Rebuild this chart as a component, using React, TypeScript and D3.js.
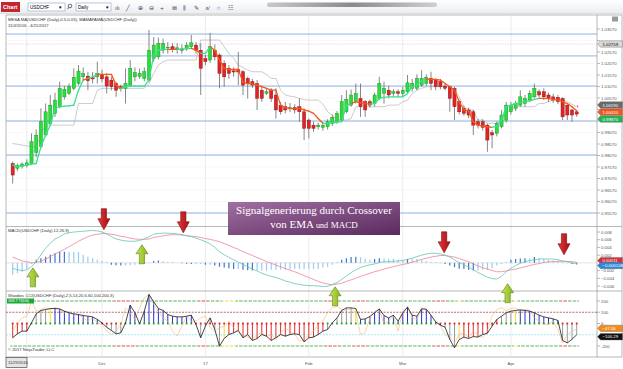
import * as d3 from 'd3';

// ---- data (USDCHF daily, 11/4/2016 - 4/21/2017) ----
const xTickBars = [19, 41, 63, 83, 106];
const xTickLabels = ['Dec', '17', 'Feb', 'Mar', 'Apr'];
const gridBars = [3, 19, 41, 63, 83, 106];

const priceTicks = [1.0357, 1.0307, 1.0257, 1.0207, 1.0157, 1.0107, 1.0057, 1.0007, 0.9957, 0.9907,
  0.9857, 0.9807, 0.9757, 0.9707, 0.9657, 0.9607, 0.9557];
const levels = [1.0335, 1.0240, 1.0109, 0.9957, 0.9809, 0.9557];
const pinkLevel = 1.02919;

const open = [0.9772,0.9751,0.9758,0.9765,0.9772,0.9820,0.9845,0.9896,0.9946,0.9990,
1.0019,1.0062,1.0077,1.0099,1.0120,1.0149,1.0152,1.0145,1.0149,1.0160,
1.0149,1.0135,1.0120,1.0106,1.0099,1.0113,1.0149,1.0150,1.0142,1.0135,
1.0229,1.0236,1.0265,1.0275,1.0280,1.0268,1.0270,1.0273,1.0280,1.0287,
1.0265,1.0229,1.0222,1.0265,1.0244,1.0207,1.0186,1.0175,1.0180,1.0171,
1.0142,1.0128,1.0120,1.0091,1.0077,1.0091,1.0070,1.0026,1.0019,1.0010,
1.0015,1.0019,0.9997,0.9961,0.9939,0.9932,0.9929,0.9932,0.9946,0.9954,
0.9961,0.9997,1.0026,1.0041,1.0055,1.0041,1.0041,1.0033,1.0055,1.0077,
1.0091,1.0077,1.0084,1.0077,1.0084,1.0099,1.0099,1.0113,1.0120,1.0142,
1.0138,1.0128,1.0109,1.0106,1.0099,1.0041,1.0012,1.0005,0.9997,0.9954,
0.9954,0.9939,0.9906,0.9903,0.9932,0.9961,0.9997,1.0012,1.0026,1.0033,
1.0048,1.0062,1.0084,1.0084,1.0070,1.0062,1.0060,1.0055,1.0026,1.0005,
0.9997];
const high = [0.9780,0.9772,0.9778,0.9790,0.9903,0.9920,1.0012,1.0033,1.0070,1.0080,
1.0128,1.0110,1.0120,1.0186,1.0200,1.0190,1.0171,1.0170,1.0215,1.0180,
1.0164,1.0150,1.0128,1.0115,1.0186,1.0222,1.0190,1.0185,1.0190,1.0353,
1.0322,1.0320,1.0315,1.0300,1.0295,1.0295,1.0290,1.0300,1.0331,1.0300,
1.0295,1.0245,1.0340,1.0290,1.0251,1.0220,1.0200,1.0190,1.0258,1.0178,
1.0150,1.0140,1.0135,1.0110,1.0095,1.0100,1.0099,1.0040,1.0040,1.0035,
1.0030,1.0055,1.0012,0.9968,0.9955,0.9950,0.9950,0.9965,0.9985,1.0000,
1.0070,1.0091,1.0094,1.0120,1.0120,1.0048,1.0050,1.0080,1.0149,1.0128,
1.0110,1.0095,1.0095,1.0105,1.0157,1.0140,1.0160,1.0178,1.0160,1.0171,
1.0142,1.0140,1.0120,1.0110,1.0105,1.0050,1.0025,1.0015,1.0005,0.9965,
0.9965,0.9946,0.9918,0.9955,1.0005,1.0040,1.0040,1.0045,1.0091,1.0070,
1.0090,1.0120,1.0095,1.0099,1.0080,1.0075,1.0070,1.0060,1.0030,1.0010,
1.0005];
const low = [0.9685,0.9740,0.9750,0.9755,0.9765,0.9800,0.9838,0.9889,0.9939,0.9975,
1.0012,1.0050,1.0070,1.0091,1.0113,1.0135,1.0091,1.0120,1.0120,1.0125,
1.0077,1.0090,1.0062,1.0085,1.0033,1.0106,1.0130,1.0140,1.0130,1.0128,
1.0215,1.0225,1.0250,1.0250,1.0255,1.0250,1.0250,1.0262,1.0270,1.0250,
1.0070,1.0200,1.0210,1.0220,1.0099,1.0106,1.0140,1.0150,1.0113,1.0070,
1.0055,1.0100,1.0005,1.0040,1.0070,1.0040,0.9968,0.9985,0.9990,0.9995,
0.9990,0.9954,0.9874,0.9881,0.9910,0.9920,0.9915,0.9920,0.9935,0.9945,
0.9954,0.9990,1.0019,1.0033,0.9975,0.9975,1.0015,1.0020,1.0048,1.0033,
1.0055,1.0065,1.0065,1.0065,1.0077,1.0085,1.0090,1.0106,1.0110,1.0091,
1.0091,1.0095,1.0090,0.9997,0.9961,0.9985,0.9980,0.9970,0.9896,0.9925,
0.9915,0.9823,0.9838,0.9890,0.9925,0.9950,0.9985,1.0000,1.0019,1.0020,
1.0040,1.0055,1.0060,1.0048,1.0040,1.0035,1.0030,0.9961,0.9961,0.9954,
0.9975];
const close = [0.9722,0.9765,0.9770,0.9775,0.9867,0.9895,0.9954,0.9997,1.0026,1.0048,
1.0099,1.0095,1.0106,1.0147,1.0174,1.0164,1.0132,1.0140,1.0164,1.0140,
1.0109,1.0106,1.0091,1.0099,1.0120,1.0186,1.0168,1.0164,1.0171,1.0265,
1.0287,1.0295,1.0295,1.0278,1.0270,1.0275,1.0265,1.0287,1.0297,1.0265,
1.0186,1.0215,1.0280,1.0236,1.0164,1.0149,1.0164,1.0170,1.0170,1.0113,
1.0120,1.0113,1.0055,1.0055,1.0084,1.0055,1.0005,0.9997,1.0005,1.0015,
1.0005,0.9997,0.9925,0.9925,0.9925,0.9939,0.9939,0.9954,0.9973,0.9990,
1.0041,1.0051,1.0070,1.0077,1.0019,1.0005,1.0026,1.0070,1.0120,1.0099,
1.0070,1.0084,1.0077,1.0091,1.0123,1.0120,1.0142,1.0142,1.0147,1.0120,
1.0106,1.0106,1.0099,1.0055,1.0019,0.9997,0.9990,0.9983,0.9939,0.9939,
0.9929,0.9874,0.9896,0.9946,0.9983,1.0026,1.0026,1.0033,1.0062,1.0055,
1.0077,1.0099,1.0070,1.0062,1.0055,1.0048,1.0041,0.9975,0.9983,0.9983,
0.9987];

// trend line (green = up, orange = down) and grey trailing line
const trend = [0.9765,0.9761,0.9761,0.9765,0.9770,0.9772,0.9845,0.9896,0.9939,1.0012,
1.0019,1.0022,1.0023,1.0026,1.0091,1.0135,1.0142,1.0149,1.0160,1.0160,
1.0160,1.0160,1.0113,1.0099,1.0106,1.0109,1.0109,1.0109,1.0109,1.0135,
1.0244,1.0265,1.0268,1.0268,1.0268,1.0268,1.0270,1.0271,1.0273,1.0265,
1.0251,1.0251,1.0280,1.0265,1.0222,1.0186,1.0181,1.0181,1.0181,1.0125,
1.0120,1.0118,1.0113,1.0106,1.0099,1.0091,1.0091,1.0026,1.0015,1.0012,
1.0010,1.0012,1.0005,1.0000,0.9990,0.9968,0.9947,0.9947,0.9949,0.9952,
0.9954,1.0026,1.0033,1.0041,1.0036,1.0033,1.0030,1.0033,1.0055,1.0060,
1.0062,1.0062,1.0062,1.0062,1.0077,1.0106,1.0113,1.0132,1.0138,1.0138,
1.0138,1.0135,1.0120,1.0106,1.0091,1.0041,1.0005,1.0000,0.9954,0.9939,
0.9935,0.9932,0.9929,0.9935,0.9961,1.0019,1.0026,1.0033,1.0038,1.0041,
1.0045,1.0051,1.0055,1.0055,1.0054,1.0051,1.0048,1.0041,1.0033,1.0019,
1.0002];
const trendUp = [0,1,1,1,1,1,1,1,1,1,
1,1,1,1,1,1,0,1,1,0,
0,0,0,0,1,1,1,1,1,1,
1,1,1,1,0,0,1,1,1,0,
0,1,1,0,0,0,0,0,0,0,
0,0,0,0,0,0,0,0,0,0,
0,0,0,0,0,0,0,1,1,1,
1,1,1,0,0,0,0,1,1,1,
1,1,1,1,1,1,1,1,1,0,
0,0,0,0,0,0,0,0,0,0,
0,0,0,1,1,1,1,1,1,1,
1,1,1,0,0,0,0,0,0,0,
0];
const grey = [0.9859,0.9856,0.9852,0.9849,0.9845,0.9845,0.9900,0.9939,0.9939,0.9939,
0.9939,0.9939,0.9939,0.9939,1.0033,1.0033,1.0033,1.0033,1.0091,1.0099,
1.0099,1.0099,1.0099,1.0099,1.0099,1.0099,1.0099,1.0099,1.0099,1.0120,
1.0164,1.0200,1.0215,1.0222,1.0222,1.0222,1.0222,1.0222,1.0222,1.0222,
1.0309,1.0309,1.0309,1.0309,1.0309,1.0280,1.0250,1.0230,1.0200,1.0190,
1.0178,1.0171,1.0171,1.0171,1.0160,1.0142,1.0142,1.0091,1.0070,1.0065,
1.0062,1.0055,1.0050,1.0048,1.0048,1.0048,1.0030,0.9997,0.9983,0.9961,
0.9961,0.9961,0.9968,1.0019,1.0019,1.0019,1.0019,1.0019,1.0019,1.0019,
1.0026,1.0026,1.0026,1.0041,1.0048,1.0077,1.0091,1.0099,1.0106,1.0106,
1.0106,1.0106,1.0106,1.0106,1.0091,1.0062,1.0019,1.0005,1.0005,0.9961,
0.9961,0.9947,0.9947,0.9947,0.9961,0.9990,1.0005,1.0019,1.0019,1.0019,
1.0019,1.0019,1.0033,1.0033,1.0041,1.0048,1.0055,1.0048,1.0041,1.0030,
1.0019];

// MACD 12,26,9
const macdTicks = [0.008, 0.006, 0.004, 0.002, -0.002, -0.004, -0.006];
const macd = [-0.0014,-0.0018,-0.0020,-0.0018,-0.0010,0.0003,0.0021,0.0038,0.0051,0.0062,
0.0068,0.0075,0.0078,0.0080,0.0081,0.0082,0.0083,0.0084,0.0083,0.0080,
0.0075,0.0068,0.0062,0.0059,0.0057,0.0056,0.0056,0.0058,0.0062,0.0068,
0.0074,0.0076,0.0077,0.0077,0.0076,0.0075,0.0073,0.0070,0.0068,0.0064,
0.0060,0.0055,0.0049,0.0040,0.0029,0.0021,0.0014,0.0008,0.0002,-0.0004,
-0.0010,-0.0016,-0.0021,-0.0027,-0.0031,-0.0035,-0.0038,-0.0042,-0.0047,-0.0050,
-0.0054,-0.0056,-0.0058,-0.0059,-0.0059,-0.0060,-0.0061,-0.0061,-0.0056,-0.0051,
-0.0043,-0.0034,-0.0025,-0.0018,-0.0012,-0.0008,-0.0005,-0.0003,0.0001,0.0003,
0.0003,0.0004,0.0005,0.0006,0.0009,0.0012,0.0016,0.0020,0.0023,0.0025,
0.0025,0.0023,0.0020,0.0015,0.0008,0.0001,-0.0005,-0.0011,-0.0018,-0.0025,
-0.0031,-0.0037,-0.0041,-0.0042,-0.0035,-0.0023,-0.0014,-0.0007,-0.0001,0.0003,
0.0006,0.0008,0.0010,0.0010,0.0010,0.0010,0.0008,0.0005,0.0003,-0.0001,
-0.000108];
const signal = [0.0015,0.0010,0.0005,0.0003,0.0000,0.0001,0.0004,0.0010,0.0016,0.0023,
0.0029,0.0035,0.0042,0.0049,0.0056,0.0062,0.0068,0.0072,0.0074,0.0076,
0.0076,0.0074,0.0072,0.0069,0.0067,0.0064,0.0062,0.0061,0.0061,0.0062,
0.0066,0.0068,0.0070,0.0072,0.0073,0.0073,0.0072,0.0071,0.0069,0.0068,
0.0066,0.0063,0.0061,0.0058,0.0055,0.0050,0.0045,0.0040,0.0035,0.0029,
0.0024,0.0019,0.0014,0.0009,0.0003,-0.0001,-0.0006,-0.0010,-0.0015,-0.0019,
-0.0023,-0.0028,-0.0033,-0.0038,-0.0043,-0.0048,-0.0052,-0.0055,-0.0057,-0.0055,
-0.0053,-0.0048,-0.0044,-0.0040,-0.0035,-0.0031,-0.0027,-0.0023,-0.0020,-0.0016,
-0.0013,-0.0010,-0.0007,-0.0004,-0.0002,0.0002,0.0005,0.0009,0.0012,0.0015,
0.0017,0.0019,0.0019,0.0017,0.0015,0.0011,0.0007,0.0003,-0.0003,-0.0008,
-0.0013,-0.0016,-0.0020,-0.0023,-0.0023,-0.0021,-0.0018,-0.0016,-0.0013,-0.0010,
-0.0007,-0.0004,-0.0002,0.0001,0.0003,0.0003,0.0004,0.0004,0.0004,0.0003,
0.00011];
const hist = [-0.0031,-0.0027,-0.0023,-0.0016,-0.0003,0.0008,0.0012,0.0016,0.0021,0.0025,
0.0028,0.0029,0.0029,0.0029,0.0028,0.0021,0.0016,0.0012,0.0008,0.0005,
0.0003,-0.0005,-0.0006,-0.0007,-0.0007,-0.0006,-0.0005,-0.0004,-0.0003,0.0001,
0.0005,0.0006,0.0005,0.0003,0.0002,0.0000,-0.0001,-0.0002,-0.0003,-0.0003,
-0.0003,-0.0005,-0.0005,-0.0007,-0.0010,-0.0012,-0.0014,-0.0016,-0.0016,-0.0018,
-0.0019,-0.0020,-0.0020,-0.0020,-0.0020,-0.0018,-0.0018,-0.0018,-0.0018,-0.0017,
-0.0016,-0.0016,-0.0016,-0.0016,-0.0016,-0.0016,-0.0012,-0.0010,-0.0005,0.0003,
0.0008,0.0012,0.0015,0.0016,0.0015,0.0011,0.0008,0.0010,0.0012,0.0012,
0.0010,0.0010,0.0008,0.0008,0.0010,0.0010,0.0010,0.0008,0.0005,0.0003,
0.0002,-0.0001,-0.0003,-0.0007,-0.0011,-0.0015,-0.0016,-0.0018,-0.0020,-0.0020,
-0.0018,-0.0018,-0.0014,-0.0007,-0.0003,0.0003,0.0008,0.0010,0.0011,0.0012,
0.0012,0.0015,0.0012,0.0010,0.0008,0.0006,0.0004,0.0002,-0.0001,-0.0003,
-0.0004];

// Woodies CCI
const cciTicks = [200, 100, 0, -200];
const cci = [-127,-92,-68,-68,6,86,116,124,133,133,
130,110,95,86,80,71,65,59,36,6,
-33,-62,-92,-83,6,163,95,-3,110,258,
193,133,116,80,65,59,59,65,74,-9,
-127,-24,50,-53,-201,-133,-98,-83,-62,-127,
-98,-151,-133,-98,-113,-151,-127,-98,-113,-98,
-92,-98,-163,-127,-121,-98,-68,-53,6,50,
116,139,139,133,36,41,62,95,130,71,
50,74,21,95,145,74,65,130,127,74,
15,-15,-33,-142,-216,-142,-121,-133,-116,-121,
-98,-86,-24,36,65,95,110,116,121,116,
110,95,74,59,50,41,27,-151,-172,-140,
-100.29];
const turbo = [-68,6,50,65,199,110,124,139,124,145,
124,95,110,65,80,50,21,50,6,-9,
-68,-98,-68,-9,139,95,36,139,228,258,
169,110,50,21,-68,-113,-24,65,21,21,
50,65,-39,-68,-39,-24,21,-39,-83,-98,
-121,-142,-98,-83,-113,-98,-142,-83,-39,-68,
-98,-157,-142,-98,-68,-9,21,95,139,154,
124,116,133,95,-98,-83,50,110,124,-9,
21,65,-68,110,154,50,36,139,124,65,
21,-24,-98,-127,-172,-98,-83,-127,-68,-98,
-127,-68,65,124,139,116,133,139,110,124,
116,50,21,-9,-9,21,-53,-172,-98,-68,
-47.56];
// histogram trend colour: b = long, r = short, g = neutral, y = 6th bar
const cciTrend = 'rrrrggggybbbbbbbbbbgggggbbbbbbbbbbbbbbbggggggyrrrrrrrrrrrrrrrrrrrrrggggggybbbbbbbbbbbbbbbbbbgggyrrrrrrrrgggybbbbbbbbbgggg';
const zeroMark = 'rrrrgggggggggggggggrrrrrgggggggggggggggrrrrrrrrrrrrrrrrrrrrrrrrrrrrggggggggggggggggggggggggrrrrrrrrrrrrrgggggggggggggrrrr';
const bandMarks = [[22, 26, 'r'], [40, 41, 'r'], [45, 47, 'y'], [67, 69, 'r'], [73, 75, 'r'], [90, 92, 'r'], [95, 95, 'y'], [107, 107, 'y'], [117, 118, 'r']];

// signal arrows: bar, MACD value at tip, direction
const arrows = [
  { bar: 19.4, at: 0.0086, dir: 'down' }, { bar: 36.3, at: 0.0078, dir: 'down' },
  { bar: 91.8, at: 0.0026, dir: 'down' }, { bar: 117.3, at: 0.0021, dir: 'down' },
  { bar: 4.3, at: -0.0013, dir: 'up' }, { bar: 27.5, at: 0.0047, dir: 'up' },
  { bar: 68.6, at: -0.0062, dir: 'up' }, { bar: 105.3, at: -0.0054, dir: 'up' },
];

const FONT = "'Liberation Sans', Arial, sans-serif";
const AX = 597;
const L = 6;

function Pill({ y, text, fill, color = '#000' }: { y: number; text: string; fill: string; color?: string }) {
  return (
    <g transform={`translate(${AX + 0.5},${y})`}>
      <path d="M0,0 L3,-3.2 H25 V3.2 H3 Z" fill={fill} stroke="#666" strokeWidth={0.4} />
      <text x={5} y={1.6} fontSize={4.3} fill={color} fontFamily={FONT}>{text}</text>
    </g>
  );
}

export default function App() {
  const n = open.length;
  const x = d3.scaleLinear().domain([0, n - 1]).range([12.7, 576.7]);
  const yP = d3.scaleLinear().domain([0.9557, 1.0357]).range([213, 29]);
  const yM = d3.scaleLinear().domain([-0.006, 0.008]).range([286, 232]);
  const yC = d3.scaleLinear().domain([-200, 200]).range([346, 301]);
  const f5 = d3.format('.5f');

  const lineP = d3.line<number>().x((_, i) => x(i)).y((d) => yP(d));
  const lineM = d3.line<number>().x((_, i) => x(i)).y((d) => yM(d));
  const lineC = d3.line<number>().x((_, i) => x(i)).y((d) => yC(d));
  const seg = (arr: number[], i: number, y: (v: number) => number) =>
    d3.line()([[x(i - 1), y(arr[i - 1])], [x(i), y(arr[i])]]) as string;

  const trendCol = (u: number) => (u ? '#35e28c' : '#f4561c');
  const cciCol: Record<string, string> = { b: '#2436c8', r: '#e42b2b', g: '#9a9a9a', y: '#f2e22a' };
  const bandCol = (i: number) => {
    const m = bandMarks.find(([a, b]) => i >= (a as number) && i <= (b as number));
    return m ? (m[2] === 'r' ? '#d42020' : '#f0d020') : '#2e9e2e';
  };

  // price-axis pills, stacked so that they do not overlap
  const pricePills = [
    { y: yP(grey[n - 1]) - 1.7, text: f5(grey[n - 1]), fill: '#6a6a6a' },
    { y: yP(trend[n - 1]) + 1.4, text: f5(trend[n - 1]), fill: '#f4561c' },
    { y: yP(close[n - 1]) + 4.9, text: f5(close[n - 1]), fill: '#22b257' },
  ];
  const pillYs = [yP(pinkLevel), ...pricePills.map((p) => p.y)];
  const visibleTicks = priceTicks.filter((t) => pillYs.every((py) => Math.abs(py - yP(t)) > 4.5));

  const arrowPath = (dir: string) =>
    dir === 'down'
      ? 'M0,0 L-6,-11 L-2.6,-11 L-2.6,-21 L2.6,-21 L2.6,-11 L6,-11 Z'
      : 'M0,0 L-6,9 L-2.6,9 L-2.6,19 L2.6,19 L2.6,9 L6,9 Z';

  return (
    <svg width={623} height={369} style={{ position: 'absolute', left: 0, top: 0, background: '#fff' }} fontFamily={FONT}>
      <defs>
        <linearGradient id="box" x1="0" y1="0" x2="1" y2="1">
          <stop offset="0" stopColor="#a070a2" />
          <stop offset="1" stopColor="#5a2a5e" />
        </linearGradient>
        <linearGradient id="tb" x1="0" y1="0" x2="0" y2="1">
          <stop offset="0" stopColor="#ffffff" />
          <stop offset="1" stopColor="#e9ecf1" />
        </linearGradient>
        <linearGradient id="sb" x1="0" y1="0" x2="1" y2="0">
          <stop offset="0" stopColor="#c8c8c8" />
          <stop offset="0.5" stopColor="#8a8a8a" />
          <stop offset="1" stopColor="#d0d0d0" />
        </linearGradient>
        <linearGradient id="red" x1="0" y1="0" x2="1" y2="0">
          <stop offset="0" stopColor="#e23a3a" />
          <stop offset="1" stopColor="#a80d14" />
        </linearGradient>
        <linearGradient id="grn" x1="0" y1="0" x2="1" y2="0">
          <stop offset="0" stopColor="#c6e45a" />
          <stop offset="1" stopColor="#86b41c" />
        </linearGradient>
      </defs>

      {/* toolbar */}
      <rect x={0} y={0} width={623} height={14} fill="url(#tb)" />
      <rect x={1} y={2} width={19} height={10} fill="#c1272d" />
      <text x={3} y={9.2} fontSize={5.5} fill="#fff" fontWeight="bold">Chart</text>
      <rect x={28} y={3} width={37} height={8} fill="#fff" stroke="#8aa4c8" strokeWidth={0.6} />
      <text x={30} y={8.8} fontSize={4.6}>USDCHF</text>
      <text x={58} y={9} fontSize={4.5}>▼</text>
      <circle cx={70} cy={6} r={1.8} fill="none" stroke="#333" strokeWidth={0.7} />
      <line x1={68.8} y1={7.3} x2={67.5} y2={9} stroke="#333" strokeWidth={0.8} />
      <rect x={76} y={3} width={35} height={8} fill="#fff" stroke="#8aa4c8" strokeWidth={0.6} />
      <text x={78} y={8.8} fontSize={4.6}>Daily</text>
      <text x={105} y={9} fontSize={4.5}>▼</text>
      {['ılı', '╱', '⊕', '⊖', '+', '⊠', '⫼', '✎', 'ʌ∕', '○', '☷'].map((t, i) => (
        <text key={i} x={115 + i * 11.3} y={9.5} fontSize={6} fill="#445">{t}</text>
      ))}
      <rect x={267} y={2.5} width={170} height={4.5} rx={2} fill="url(#sb)" />
      <line x1={0} y1={13.5} x2={623} y2={13.5} stroke="#d4d4d4" strokeWidth={0.6} />

      {/* chart frame */}
      <rect x={L} y={15} width={616} height={342} fill="#fff" stroke="#9a9a9a" strokeWidth={0.7} />
      <line x1={AX} y1={15} x2={AX} y2={357} stroke="#9a9a9a" strokeWidth={0.7} />
      <rect x={612} y={16.5} width={6} height={5} fill="#9a9a9a" />

      {/* vertical grid */}
      {gridBars.map((b) => (
        <line key={b} x1={x(b)} x2={x(b)} y1={15} y2={357} stroke="#e3e3e3" strokeWidth={0.7} />
      ))}

      {/* ---------- price pane ---------- */}
      {priceTicks.map((t) => (
        <g key={t}>
          <line x1={L} x2={AX} y1={yP(t)} y2={yP(t)} stroke="#f0f0f0" strokeWidth={0.5} />
          <line x1={AX} x2={AX + 3} y1={yP(t)} y2={yP(t)} stroke="#777" strokeWidth={0.5} />
        </g>
      ))}
      {visibleTicks.map((t) => (
        <text key={t} x={AX + 4} y={yP(t) + 1.5} fontSize={4.3} fill="#555">{f5(t)}</text>
      ))}
      {levels.map((lv) => (
        <line key={lv} x1={L} x2={AX} y1={yP(lv)} y2={yP(lv)} stroke="#86a9df" strokeWidth={0.9} />
      ))}
      <line x1={L} x2={AX} y1={yP(pinkLevel)} y2={yP(pinkLevel)} stroke="#e6a6e8" strokeWidth={0.6} strokeDasharray="1.2,1.2" />

      <path d={lineP(grey) as string} fill="none" stroke="#b4b4b4" strokeWidth={0.7} />
      {open.map((o, i) => {
        const up = close[i] >= o;
        const top = yP(Math.max(o, close[i]));
        const bot = yP(Math.min(o, close[i]));
        return (
          <g key={i}>
            <line x1={x(i)} x2={x(i)} y1={yP(high[i])} y2={yP(low[i])} stroke="#555" strokeWidth={0.7} />
            <rect x={x(i) - 1.6} y={top} width={3.2} height={Math.max(bot - top, 0.8)}
              fill={up ? '#27de3c' : '#e02424'} stroke={up ? '#1b8a22' : '#8c1212'} strokeWidth={0.4} />
          </g>
        );
      })}
      {trend.slice(1).map((_, k) => (
        <path key={k} d={seg(trend, k + 1, yP)} stroke={trendCol(trendUp[k + 1])} strokeWidth={1.3} fill="none" strokeLinecap="round" />
      ))}
      <line x1={x(n - 1) + 1} x2={x(n - 1) + 1} y1={yP(1.0026)} y2={yP(1.0015)} stroke="#ff40e0" strokeWidth={1} />

      <text x={8} y={21} fontSize={4.2} fill="#333">MESA MA(USDCHF (Daily),0.5,0.05), MAMAFAMA(USDCHF (Daily))</text>
      <text x={8} y={26.5} fontSize={4.2} fill="#333">11/4/2016 - 4/21/2017</text>

      <Pill y={yP(pinkLevel)} text="1.02759" fill="#d8d8d8" />
      {pricePills.map((p) => (
        <Pill key={p.fill} y={p.y} text={p.text} fill={p.fill} color="#fff" />
      ))}

      {/* ---------- MACD pane ---------- */}
      <line x1={L} x2={622} y1={226.5} y2={226.5} stroke="#9a9a9a" strokeWidth={0.7} />
      {macdTicks.map((t) => (
        <g key={t}>
          <line x1={AX} x2={AX + 3} y1={yM(t)} y2={yM(t)} stroke="#777" strokeWidth={0.5} />
          <text x={AX + 4} y={yM(t) + 1.5} fontSize={4.3} fill="#555">{d3.format('.3f')(t)}</text>
        </g>
      ))}
      <line x1={L} x2={AX} y1={yM(0)} y2={yM(0)} stroke="#c8c8c8" strokeWidth={0.5} />
      {hist.map((h, i) => (
        <line key={i} x1={x(i)} x2={x(i)} y1={yM(0)} y2={yM(h)}
          stroke={i > 0 && Math.abs(h) > Math.abs(hist[i - 1]) ? '#3a78c8' : '#9ccbef'} strokeWidth={1.2} />
      ))}
      <path d={lineM(signal) as string} fill="none" stroke="#ec8496" strokeWidth={0.8} />
      <path d={lineM(macd) as string} fill="none" stroke="#62c6b4" strokeWidth={0.8} />
      <text x={8} y={232} fontSize={4.2} fill="#333">MACD(USDCHF (Daily),12,26,9)</text>
      <Pill y={yM(signal[n - 1]) - 1.8} text={d3.format('.5f')(signal[n - 1])} fill="#d6303c" color="#fff" />
      <Pill y={yM(macd[n - 1]) + 2.2} text={d3.format('.6f')(macd[n - 1])} fill="#2f86d8" color="#fff" />

      {/* ---------- Woodies CCI pane ---------- */}
      <line x1={L} x2={622} y1={291} y2={291} stroke="#9a9a9a" strokeWidth={0.7} />
      {cciTicks.map((t) => (
        <g key={t}>
          <line x1={AX} x2={AX + 3} y1={yC(t)} y2={yC(t)} stroke="#777" strokeWidth={0.5} />
          <text x={AX + 4} y={yC(t) + 1.5} fontSize={4.3} fill="#555">{t}</text>
        </g>
      ))}
      {cci.map((_, i) => (
        <g key={i}>
          <line x1={x(i) - 2.35} x2={x(i) + 2.35} y1={yC(200)} y2={yC(200)} stroke={bandCol(i)} strokeWidth={0.8} strokeDasharray="2,1.2" />
          <line x1={x(i) - 2.35} x2={x(i) + 2.35} y1={yC(-200)} y2={yC(-200)} stroke={bandCol(i)} strokeWidth={0.8} strokeDasharray="2,1.2" />
        </g>
      ))}
      <line x1={L} x2={AX} y1={yC(100)} y2={yC(100)} stroke="#8c3434" strokeWidth={0.7} strokeDasharray="2,1.2" />
      <line x1={L} x2={AX} y1={yC(-100)} y2={yC(-100)} stroke="#7fe0ea" strokeWidth={0.7} strokeDasharray="2,1.2" />
      {cci.map((c, i) => (
        <line key={i} x1={x(i)} x2={x(i)} y1={yC(0)} y2={yC(c)} stroke={cciCol[cciTrend[i]]} strokeWidth={1} />
      ))}
      {cci.map((_, i) => (
        <rect key={i} x={x(i) - 0.9} y={yC(0) - 0.9} width={1.8} height={1.8} fill={zeroMark[i] === 'r' ? '#e42020' : '#2ca02c'} />
      ))}
      <path d={lineC(turbo) as string} fill="none" stroke="#f7b77a" strokeWidth={0.6} />
      <path d={lineC(cci) as string} fill="none" stroke="#1a1a1a" strokeWidth={0.8} />
      <text x={8} y={296.5} fontSize={4.2} fill="#333">Woodies CCI(USDCHF (Daily),2,5,14,20,6,60,100,200,3)</text>
      <rect x={7} y={298.5} width={27} height={5} fill="#1da83a" />
      <text x={8} y={302.3} fontSize={3.8} fill="#fff">168.7 Tl(Dfi)</text>
      <text x={8} y={351} fontSize={4.2} fill="#333">© 2017 NinjaTrader, LLC</text>
      <Pill y={yC(turbo[n - 1]) - 0.5} text={d3.format('.2f')(turbo[n - 1])} fill="#f28c1a" color="#fff" />
      <Pill y={yC(cci[n - 1]) + 2} text={d3.format('.2f')(cci[n - 1])} fill="#111" color="#fff" />

      {/* ---------- x axis ---------- */}
      {xTickBars.map((b, k) => (
        <text key={b} x={x(b)} y={364.5} fontSize={4.3} fill="#555" textAnchor="middle">{xTickLabels[k]}</text>
      ))}
      <rect x={L} y={357.5} width={21} height={10} fill="#e6e6e6" stroke="#333" strokeWidth={0.6} />
      <text x={8} y={364} fontSize={4} fill="#333">11/29/2016</text>

      {/* ---------- annotations ---------- */}
      {arrows.map((a, k) => (
        <path key={k} transform={`translate(${x(a.bar)},${yM(a.at)})`} d={arrowPath(a.dir)}
          fill={a.dir === 'down' ? 'url(#red)' : 'url(#grn)'} stroke={a.dir === 'down' ? '#7c0a0e' : '#5f7f14'} strokeWidth={0.6} />
      ))}
      <rect x={228} y={202} width={172} height={33} fill="url(#box)" />
      <text x={314} y={214} fontSize={11} fill="#fff" textAnchor="middle" fontFamily="'Liberation Serif', 'Times New Roman', serif">Signalgenerierung durch Crossover</text>
      <text x={314} y={228} fontSize={11} fill="#fff" textAnchor="middle" fontFamily="'Liberation Serif', 'Times New Roman', serif">
        von EMA <tspan fontSize={8}>und</tspan> <tspan fontSize={9}>MACD</tspan>
      </text>
    </svg>
  );
}
